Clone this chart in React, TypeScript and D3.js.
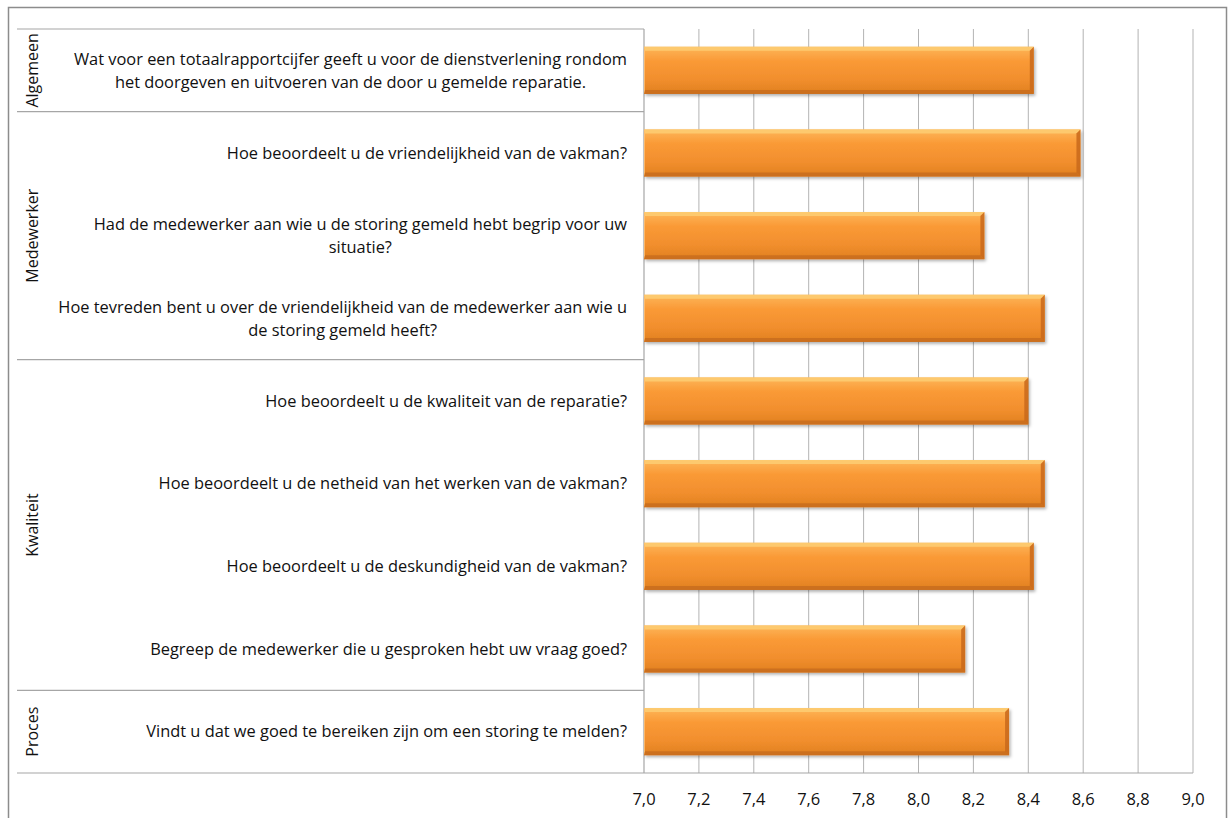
import React, { useEffect, useRef } from "react";
import * as d3 from "d3";

const questions: string[][] = [
  ["Wat voor een totaalrapportcijfer geeft u voor de dienstverlening rondom", "het doorgeven en uitvoeren van de door u gemelde reparatie."],
  ["Hoe beoordeelt u de vriendelijkheid van de vakman?"],
  ["Had de medewerker aan wie u de storing gemeld hebt begrip voor uw", "situatie?"],
  ["Hoe tevreden bent u over de vriendelijkheid van de medewerker aan wie u", "de storing gemeld heeft?"],
  ["Hoe beoordeelt u de kwaliteit van de reparatie?"],
  ["Hoe beoordeelt u de netheid van het werken van de vakman?"],
  ["Hoe beoordeelt u de deskundigheid van de vakman?"],
  ["Begreep de medewerker die u gesproken hebt uw vraag goed?"],
  ["Vindt u dat we goed te bereiken zijn om een storing te melden?"],
];
const scores: number[] = [8.42, 8.59, 8.24, 8.46, 8.40, 8.46, 8.42, 8.17, 8.33];
const groupNames: string[] = ["Algemeen", "Medewerker", "Kwaliteit", "Proces"];
const groupSizes: number[] = [1, 3, 4, 1];
const tickValues: number[] = [7.0, 7.2, 7.4, 7.6, 7.8, 8.0, 8.2, 8.4, 8.6, 8.8, 9.0];

const W = 1228;
const H = 818;
const FONT = "'Open Sans', Lato, sans-serif";

export default function App() {
  const ref = useRef<SVGSVGElement>(null);

  useEffect(() => {
    const svg = d3.select(ref.current);
    svg.selectAll("*").remove();

    const plotL = 644, plotR = 1193, plotT = 29, plotB = 773;
    const catL = 17;
    const x = d3.scaleLinear().domain([7, 9]).range([plotL, plotR]);
    const y = d3.scaleBand<number>().domain(d3.range(questions.length)).range([plotT, plotB]).paddingInner(0.43).paddingOuter(0.215);
    const step = y.step();

    const defs = svg.append("defs");
    const g1 = defs.append("linearGradient").attr("id", "barFill").attr("x1", 0).attr("y1", 0).attr("x2", 0).attr("y2", 1);
    g1.append("stop").attr("offset", "0%").attr("stop-color", "#fdb65a");
    g1.append("stop").attr("offset", "30%").attr("stop-color", "#fa9a36");
    g1.append("stop").attr("offset", "70%").attr("stop-color", "#f18e2d");
    g1.append("stop").attr("offset", "100%").attr("stop-color", "#e0801f");
    const f = defs.append("filter").attr("id", "shadow").attr("x", "-5%").attr("y", "-20%").attr("width", "115%").attr("height", "150%");
    f.append("feDropShadow").attr("dx", 1.5).attr("dy", 2).attr("stdDeviation", 1.6).attr("flood-color", "#000").attr("flood-opacity", 0.3);

    // outer border
    svg.append("rect").attr("x", 8.5).attr("y", 7.5).attr("width", 1218).attr("height", 830)
      .attr("fill", "#fff").attr("stroke", "#8c8c8c").attr("stroke-width", 1.5);

    // gridlines
    svg.append("g").selectAll("line").data(tickValues.slice(1)).join("line")
      .attr("x1", d => x(d)).attr("x2", d => x(d)).attr("y1", plotT).attr("y2", plotB)
      .attr("stroke", "#b3b3b3").attr("stroke-width", 1);

    // group separators
    const bounds: number[] = [0];
    groupSizes.forEach(s => bounds.push(bounds[bounds.length - 1] + s));
    svg.append("g").selectAll("line").data(bounds).join("line")
      .attr("x1", catL).attr("x2", (d, i) => (i === bounds.length - 1 ? plotR : plotL))
      .attr("y1", d => plotT + d * step).attr("y2", d => plotT + d * step)
      .attr("stroke", "#a6a6a6").attr("stroke-width", 1.2);

    // axis line
    svg.append("line").attr("x1", plotL).attr("x2", plotL).attr("y1", plotT).attr("y2", plotB)
      .attr("stroke", "#a6a6a6").attr("stroke-width", 1.2);

    // bars
    const b = 4;
    const bars = svg.append("g");
    scores.forEach((v, i) => {
      const x0 = x(7), x1 = x(v), y0 = y(i)!, y1 = y0 + y.bandwidth();
      const gg = bars.append("g");
      gg.append("rect").attr("x", x0).attr("y", y0).attr("width", x1 - x0).attr("height", y1 - y0)
        .attr("fill", "url(#barFill)").attr("filter", "url(#shadow)");
      gg.append("polygon").attr("points", `${x0},${y0} ${x1},${y0} ${x1 - b},${y0 + b} ${x0 + 1},${y0 + b}`)
        .attr("fill", "#fdca70").attr("opacity", 0.95);
      gg.append("polygon").attr("points", `${x1},${y0} ${x1},${y1} ${x1 - b},${y1 - b} ${x1 - b},${y0 + b}`)
        .attr("fill", "#c8691b").attr("opacity", 0.85);
      gg.append("polygon").attr("points", `${x0},${y1} ${x1},${y1} ${x1 - b},${y1 - b} ${x0 + 1},${y1 - b}`)
        .attr("fill", "#c46a1e").attr("opacity", 0.75);
      gg.append("polygon").attr("points", `${x0},${y0} ${x0 + 1},${y0 + b} ${x0 + 1},${y1 - b} ${x0},${y1}`)
        .attr("fill", "#fcc27a").attr("opacity", 0.8);
    });

    // category labels
    const lineH = 23;
    const labelRight = 627;
    questions.forEach((lines, i) => {
      const cy = y(i)! + y.bandwidth() / 2;
      const t = svg.append("text").attr("font-family", FONT).attr("font-size", 16.4).attr("fill", "#111")
        .attr("text-anchor", "middle");
      const n = lines.length;
      const spans = lines.map((l, k) =>
        t.append("tspan").attr("x", 0).attr("y", cy + (k - (n - 1) / 2) * lineH).attr("dy", "0.35em").text(l)
      );
      const maxW = d3.max(spans, s => (s.node() as SVGTSpanElement).getComputedTextLength()) || 0;
      spans.forEach(s => s.attr("x", labelRight - maxW / 2));
    });

    // group labels
    groupNames.forEach((name, i) => {
      const cy = plotT + ((bounds[i] + bounds[i + 1]) / 2) * step;
      svg.append("text").attr("transform", `translate(32,${cy}) rotate(-90)`)
        .attr("text-anchor", "middle").attr("dy", "0.35em")
        .attr("font-family", FONT).attr("font-size", 16).attr("fill", "#111").text(name);
    });

    // tick labels
    const fmt = (d: number) => d.toFixed(1).replace(".", ",");
    svg.append("g").selectAll("text").data(tickValues).join("text")
      .attr("x", d => x(d)).attr("y", 799).attr("dy", "0.35em").attr("text-anchor", "middle")
      .attr("font-family", FONT).attr("font-size", 16.5).attr("fill", "#111").text(d => fmt(d));
  }, []);

  return (
    <svg ref={ref} width={W} height={H} style={{ position: "absolute", left: 0, top: 0, background: "#fff" }} />
  );
}
